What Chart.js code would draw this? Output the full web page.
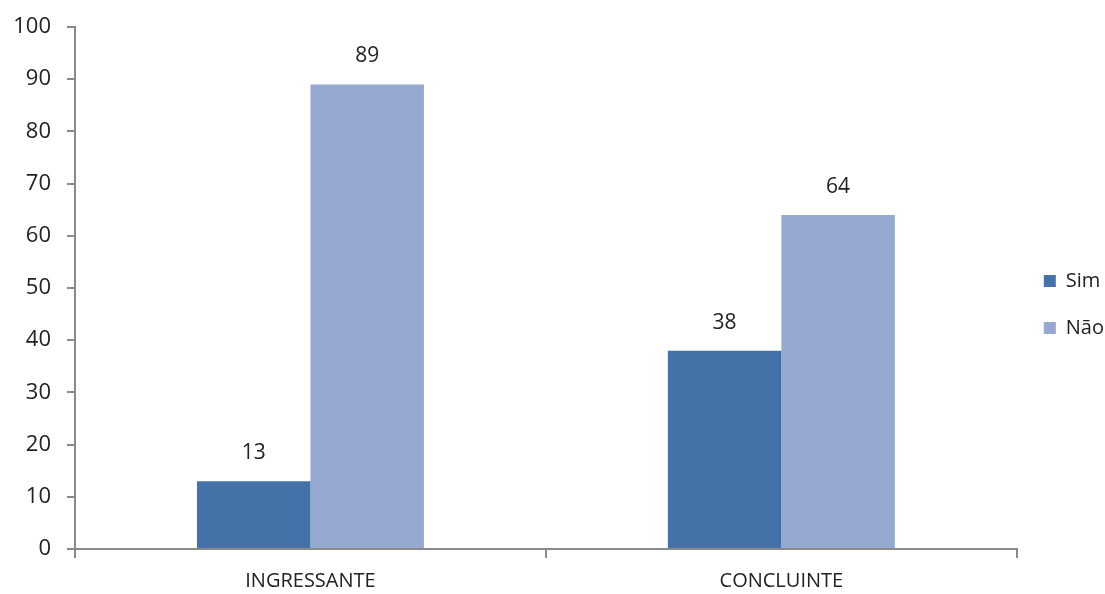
<!DOCTYPE html>
<html>
<head>
<meta charset="utf-8">
<script src="https://cdn.jsdelivr.net/npm/chart.js@4/dist/chart.umd.min.js"></script>
<style>
html,body{margin:0;padding:0;background:#fff;}
#wrap{width:1105px;height:594px;position:relative;}
</style>
</head>
<body>
<div id="wrap"><canvas id="c" width="1105" height="594"></canvas></div>
<script>
const categories = ["INGRESSANTE", "CONCLUINTE"];
const seriesNames = ["Sim", "Não"];
const simValues = [13, 38];
const naoValues = [89, 64];
const yTicks = [0, 10, 20, 30, 40, 50, 60, 70, 80, 90, 100];

const FONT = "'Open Sans', 'DejaVu Sans', sans-serif";
const AXIS = "#8a8a8a";
const TEXT = "#222222";

const valueLabels = {
  id: 'valueLabels',
  afterDatasetsDraw(chart) {
    const ctx = chart.ctx;
    ctx.save();
    ctx.font = "21px " + FONT;
    ctx.fillStyle = TEXT;
    ctx.textAlign = 'center';
    ctx.textBaseline = 'middle';
    chart.data.datasets.forEach((ds, di) => {
      chart.getDatasetMeta(di).data.forEach((bar, i) => {
        ctx.fillText(String(ds.data[i]), bar.x, bar.y - 28);
      });
    });
    ctx.restore();
  }
};

new Chart(document.getElementById('c'), {
  type: 'bar',
  data: {
    labels: categories,
    datasets: [
      { label: seriesNames[0], data: simValues, backgroundColor: '#4472A8', borderWidth: 0 },
      { label: seriesNames[1], data: naoValues, backgroundColor: '#95A9D1', borderWidth: 0 }
    ]
  },
  options: {
    responsive: false,
    animation: false,
    devicePixelRatio: 1,
    layout: { padding: { top: 15, right: -9, bottom: 0, left: 0 } },
    datasets: { bar: { categoryPercentage: 0.482, barPercentage: 1.0 } },
    plugins: {
      legend: {
        position: 'right',
        labels: {
          font: { family: FONT, size: 20 },
          color: TEXT,
          boxWidth: 12,
          boxHeight: 12,
          padding: 27
        }
      },
      tooltip: { enabled: false }
    },
    scales: {
      x: {
        grid: { display: true, drawOnChartArea: false, drawTicks: true, tickLength: 9, color: AXIS, lineWidth: 2, offset: true },
        border: { display: true, color: AXIS, width: 2 },
        ticks: { font: { family: FONT, size: 20 }, color: TEXT, padding: 11 },
        afterFit(s) { s.height = 45; }
      },
      y: {
        min: 0, max: 100,
        afterBuildTicks(s) { s.ticks = yTicks.map(v => ({ value: v })); },
        grid: { display: true, drawOnChartArea: false, drawTicks: true, tickLength: 8, color: AXIS, lineWidth: 2 },
        border: { display: true, color: AXIS, width: 2 },
        ticks: { font: { family: FONT, size: 22, lineHeight: 1.0 }, color: TEXT, padding: 16 },
        afterFit(s) { s.width = 75; }
      }
    }
  },
  plugins: [valueLabels]
});
</script>
</body>
</html>
